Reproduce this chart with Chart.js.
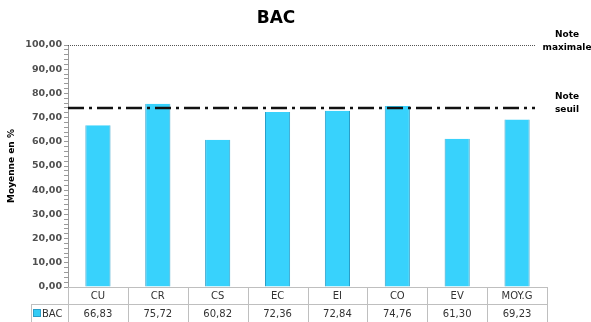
<!DOCTYPE html>
<html>
<head>
<meta charset="utf-8">
<script src="https://cdn.jsdelivr.net/npm/chart.js@4/dist/chart.umd.min.js"></script>
<style>
  html, body { margin: 0; padding: 0; background: #fff; }
  canvas { display: block; }
</style>
</head>
<body>
<canvas id="bacChart" width="591" height="322"></canvas>
<script>
const categories = ["CU", "CR", "CS", "EC", "EI", "CO", "EV", "MOY.G"];
const bacValues = [66.83, 75.72, 60.82, 72.36, 72.84, 74.76, 61.30, 69.23];
const noteSeuil = 74;
const noteMaximale = 100;
const seriesName = "BAC";

const fmt = v => v.toFixed(2).replace(".", ",");

// titre, lignes de référence et tableau de données
const extras = {
    id: "extras",
    afterDraw(chart) {
        const c = chart.ctx;
        const a = chart.chartArea;
        const xs = chart.scales.x;
        const ys = chart.scales.y;
        const n = categories.length;
        const w = (a.right - a.left) / n;
        const lineEnd = a.right - 12;

        c.save();
        c.fillStyle = "#000";
        c.textAlign = "center";
        c.textBaseline = "middle";
        c.font = "bold 17px 'DejaVu Sans'";
        c.fillText("BAC", 276, 19);

        // note maximale
        let y = Math.round(ys.getPixelForValue(noteMaximale)) + 0.5;
        c.strokeStyle = "#555";
        c.lineWidth = 1;
        c.setLineDash([1, 1]);
        c.beginPath(); c.moveTo(a.left, y); c.lineTo(lineEnd, y); c.stroke();

        // note seuil
        y = ys.getPixelForValue(noteSeuil);
        c.strokeStyle = "#111";
        c.lineWidth = 2.5;
        c.setLineDash([16, 5, 3, 5]);
        c.beginPath(); c.moveTo(a.left, y); c.lineTo(lineEnd, y); c.stroke();
        c.setLineDash([]);

        c.font = "bold 9px 'DejaVu Sans'";
        c.fillText("Note", 567, 35);
        c.fillText("maximale", 567, 48);
        c.fillText("Note", 567, 97);
        c.fillText("seuil", 567, 110);

        // tableau
        const top = a.bottom;
        const mid = top + 17;
        const bot = 322;
        const left0 = 31;
        c.strokeStyle = "#bfbfbf";
        c.lineWidth = 1;
        c.beginPath();
        c.moveTo(a.left, Math.round(top) + 0.5); c.lineTo(a.right, Math.round(top) + 0.5);
        c.moveTo(left0, Math.round(mid) + 0.5); c.lineTo(a.right, Math.round(mid) + 0.5);
        c.moveTo(left0 + 0.5, mid); c.lineTo(left0 + 0.5, bot);
        for (let i = 0; i <= n; i++) {
            const x = Math.round(a.left + i * w) + 0.5;
            c.moveTo(x, top); c.lineTo(x, bot);
        }
        c.stroke();

        c.fillStyle = "#333";
        c.font = "10px 'DejaVu Sans'";
        categories.forEach((cat, i) => {
            const x = xs.getPixelForValue(i);
            c.fillText(cat, x, (top + mid) / 2 + 1);
            c.fillText(fmt(bacValues[i]), x, (mid + bot) / 2 + 1);
        });

        // légende
        c.fillStyle = "#33ccf5";
        c.fillRect(34, 310, 6, 6);
        c.strokeStyle = "#2a9ec8";
        c.strokeRect(33.5, 309.5, 7, 7);
        c.fillStyle = "#333";
        c.textAlign = "left";
        c.fillText(seriesName, 42, (mid + bot) / 2 + 1);
        c.restore();
    }
};

new Chart(document.getElementById("bacChart"), {
    type: "bar",
    data: {
        labels: categories,
        datasets: [{
            label: seriesName,
            data: bacValues,
            backgroundColor: "#38d2fc",
            borderColor: "#2a9ec8",
            borderWidth: { left: 1, right: 1, top: 0, bottom: 0 },
            barPercentage: 0.42,
            categoryPercentage: 1
        }]
    },
    options: {
        responsive: false,
        animation: false,
        layout: { padding: { top: 45, bottom: 35, right: 44, left: 6 } },
        plugins: { legend: { display: false }, tooltip: { enabled: false } },
        scales: {
            x: { display: false },
            y: {
                min: 0,
                max: 100,
                afterFit(scale) { scale.width = 62; },
                ticks: {
                    stepSize: 2,
                    autoSkip: false,
                    padding: 2,
                    color: "#505050",
                    font: { family: "DejaVu Sans", size: 9.5, weight: "bold" },
                    callback: v => (v % 10 === 0 ? fmt(v) : "")
                },
                grid: { drawOnChartArea: false, tickLength: 4, color: "#9a9a9a" },
                border: { color: "#9a9a9a" },
                title: {
                    display: true,
                    text: "Moyenne en %",
                    color: "#000",
                    padding: 0,
                    font: { family: "DejaVu Sans", size: 9, weight: "bold" }
                }
            }
        }
    },
    plugins: [extras]
});
</script>
</body>
</html>
